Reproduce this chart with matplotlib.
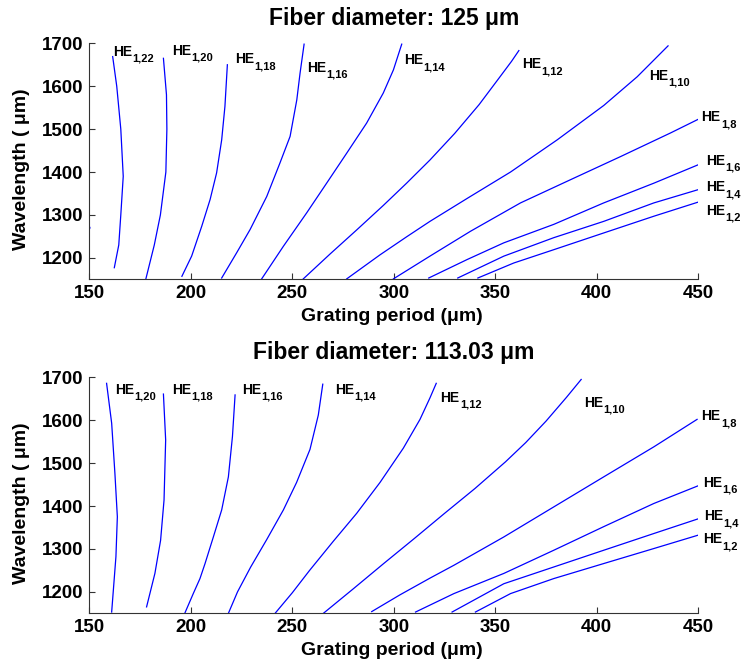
import matplotlib
matplotlib.use("Agg")
import matplotlib.pyplot as plt
from matplotlib.transforms import offset_copy

plt.rcParams['font.family'] = ['Liberation Sans', 'DejaVu Sans']
plt.rcParams['font.weight'] = 'bold'

# ---------------- Data: top panel (fiber diameter 125 um) ----------------
top_modes = ["1,22", "1,20", "1,18", "1,16", "1,14", "1,12", "1,10", "1,8", "1,6", "1,4", "1,2"]
top_x = [
    [161.5, 163.5, 165.5, 166.7, 165.5, 164.5, 162.3],
    [186.5, 188.0, 188.2, 187.7, 185.0, 182.0, 177.8],
    [218.0, 216.8, 215.2, 212.7, 209.5, 205.4, 200.4, 195.6],
    [255.8, 253.8, 252.2, 248.9, 243.9, 237.4, 229.2, 222.6, 215.2],
    [303.9, 299.8, 294.8, 286.6, 276.8, 266.9, 257.1, 245.6, 234.9],
    [361.6, 358.0, 352.0, 342.0, 330.0, 317.8, 306.3, 294.8, 281.7, 268.6, 255.4],
    [435.1, 419.9, 403.4, 380.5, 357.5, 337.0, 317.8, 306.3, 293.2, 276.8],
    [450.0, 436.3, 411.7, 387.0, 362.4, 337.8, 317.8, 299.8],
    [450.0, 428.1, 403.4, 378.8, 354.2, 336.1, 317.2],
    [450.0, 428.1, 403.4, 378.8, 354.2, 331.5],
    [450.0, 428.1, 403.4, 378.8, 359.1, 341.4],
]
top_y = [
    [1669, 1600, 1500, 1390, 1300, 1230, 1177],
    [1665, 1580, 1500, 1400, 1300, 1230, 1150],
    [1650, 1553, 1475, 1398, 1336, 1274, 1204, 1157],
    [1698, 1630, 1568, 1483, 1421, 1343, 1266, 1212, 1153],
    [1698, 1638, 1584, 1514, 1444, 1374, 1305, 1227, 1151],
    [1683, 1658, 1620, 1557, 1490, 1428, 1374, 1322, 1265, 1209, 1151],
    [1694, 1622, 1555, 1475, 1400, 1341, 1285, 1249, 1207, 1151],
    [1523, 1491, 1436, 1382, 1328, 1262, 1204, 1151],
    [1417, 1374, 1328, 1278, 1235, 1196, 1153],
    [1359, 1328, 1285, 1247, 1204, 1153],
    [1330, 1297, 1258, 1219, 1188, 1153],
]
top_label_x = [161.5, 190.9, 221.8, 257.1, 304.9, 363.2, 425.6, 451.6, 453.8, 453.8, 453.8]
top_label_y = [1670, 1673, 1653, 1634, 1651, 1642, 1615, 1518, 1417, 1355, 1301]
# partially visible curve at the left edge (top panel)
edge_x = [148.5, 150.3, 148.5]
edge_y = [1290, 1270, 1250]

# ---------------- Data: bottom panel (fiber diameter 113.03 um) ----------------
bot_modes = ["1,20", "1,18", "1,16", "1,14", "1,12", "1,10", "1,8", "1,6", "1,4", "1,2"]
bot_x = [
    [158.5, 161.0, 162.6, 163.8, 163.1, 161.0],
    [186.5, 187.6, 186.8, 185.1, 182.3, 178.2],
    [221.8, 220.5, 218.5, 215.2, 211.1, 207.0, 204.5, 201.2, 197.1],
    [265.0, 262.8, 258.7, 252.1, 245.6, 237.4, 229.5, 223.0, 218.5],
    [320.9, 317.8, 312.9, 304.7, 293.2, 281.7, 270.2, 258.5, 250.0, 241.5],
    [392.3, 385.0, 375.0, 365.0, 355.0, 340.0, 325.0, 310.0, 295.0, 280.0, 265.3],
    [449.4, 428.1, 403.4, 378.8, 354.2, 329.6, 317.8, 303.0, 289.1],
    [449.8, 428.1, 403.4, 378.8, 354.2, 329.6, 310.7],
    [449.8, 428.1, 403.4, 378.8, 354.2, 328.7],
    [449.8, 428.1, 403.4, 378.8, 357.5, 340.2],
]
bot_y = [
    [1686, 1593, 1476, 1375, 1282, 1153],
    [1661, 1554, 1414, 1320, 1243, 1165],
    [1659, 1562, 1468, 1391, 1328, 1266, 1231, 1196, 1151],
    [1684, 1612, 1532, 1455, 1391, 1322, 1258, 1200, 1150],
    [1686, 1652, 1602, 1535, 1455, 1383, 1318, 1250, 1198, 1150],
    [1695, 1653, 1598, 1548, 1503, 1441, 1383, 1324, 1266, 1207, 1150],
    [1602, 1538, 1468, 1398, 1328, 1262, 1232, 1193, 1154],
    [1447, 1406, 1352, 1297, 1243, 1196, 1153],
    [1370, 1336, 1297, 1258, 1219, 1153],
    [1332, 1301, 1266, 1231, 1196, 1153],
]
bot_label_x = [162.6, 190.6, 225.4, 271.0, 323.0, 393.6, 451.6, 452.2, 452.7, 452.2]
bot_label_y = [1661, 1661, 1661, 1661, 1643, 1632, 1600, 1445, 1367, 1313]

titles = ["Fiber diameter: 125 \u03bcm", "Fiber diameter: 113.03 \u03bcm"]
xlabel = "Grating period (\u03bcm)"
ylabel = "Wavelength ( \u03bcm)"
xticks = [150, 200, 250, 300, 350, 400, 450]
yticks = [1200, 1300, 1400, 1500, 1600, 1700]

fig = plt.figure(figsize=(7.42, 6.65), dpi=100)
ax1 = fig.add_axes([0.1204, 0.580, 0.8207, 0.3549])
ax2 = fig.add_axes([0.1204, 0.0777, 0.8207, 0.3549])


def style(ax, title):
    ax.set_xlim(150, 450)
    ax.set_ylim(1150, 1700)
    ax.set_xticks(xticks)
    ax.set_yticks(yticks)
    ax.tick_params(direction='in', length=4, width=0.8, labelsize=13.5, pad=4, color='#333333')
    for lab in ax.get_xticklabels() + ax.get_yticklabels():
        lab.set_fontweight('bold')
    ax.spines['top'].set_visible(False)
    ax.spines['right'].set_visible(False)
    for s in ('left', 'bottom'):
        ax.spines[s].set_color('#333333')
        ax.spines[s].set_linewidth(0.8)
    ax.set_xlabel(xlabel, fontsize=14, fontweight='bold', va='top')
    ax.xaxis.set_label_coords(0.497, -0.122)
    ax.set_ylabel(ylabel, fontsize=14, fontweight='bold')
    ax.yaxis.set_label_coords(-0.097, 0.465)
    ax.set_title(title, fontsize=16.5, fontweight='bold', pad=13)


def draw(ax, modes, xs, ys, lx, ly):
    for m, x, y, tx, ty in zip(modes, xs, ys, lx, ly):
        ax.plot(x, y, color='#0000ff', lw=0.9)
        ax.text(tx, ty, "HE", fontsize=10, fontweight='bold', ha='left', va='baseline',
                clip_on=False)
        tr = offset_copy(ax.transData, fig=fig, x=13.9, y=-4.2, units='points')
        ax.text(tx, ty, m, transform=tr, fontsize=8, fontweight='bold', ha='left',
                va='baseline', clip_on=False)


draw(ax1, top_modes, top_x, top_y, top_label_x, top_label_y)
ax1.plot(edge_x, edge_y, color='#0000ff', lw=0.9)
draw(ax2, bot_modes, bot_x, bot_y, bot_label_x, bot_label_y)
style(ax1, titles[0])
style(ax2, titles[1])

fig.savefig("out.png", dpi=100, facecolor='white')
